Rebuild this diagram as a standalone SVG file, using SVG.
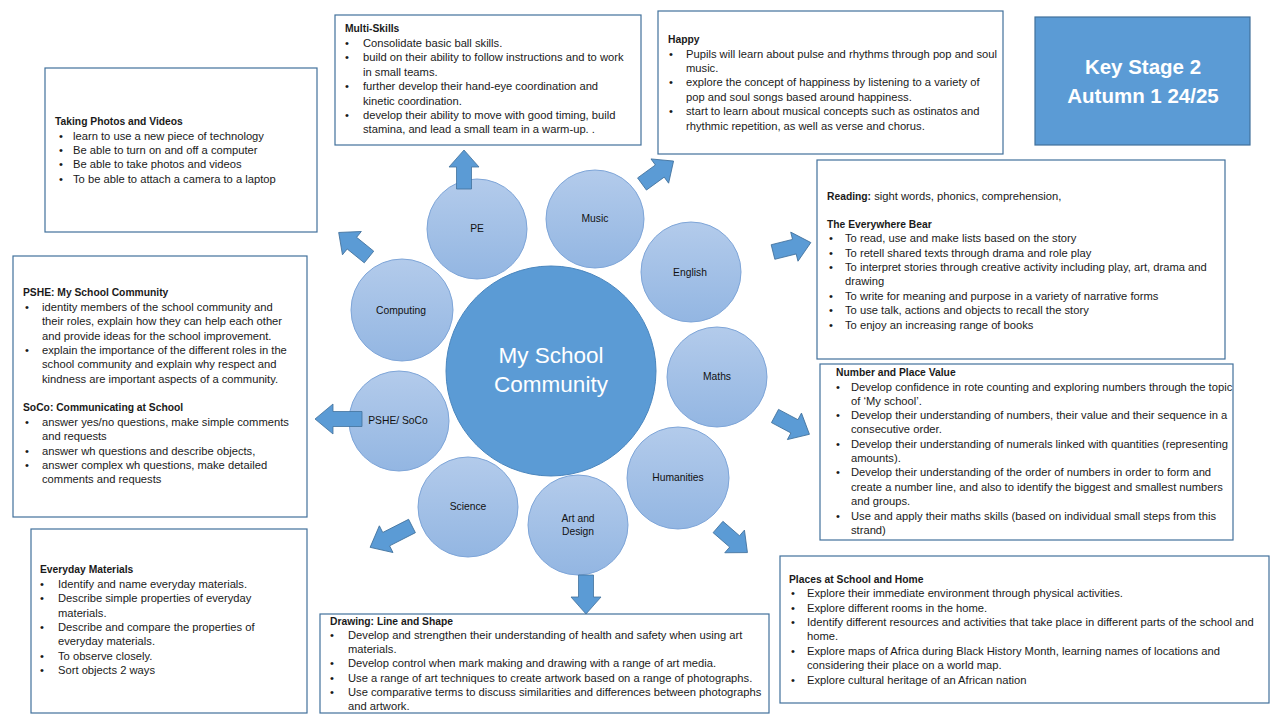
<svg xmlns="http://www.w3.org/2000/svg" xmlns:xlink="http://www.w3.org/1999/xlink" width="1280" height="720" viewBox="0 0 1280 720">
<defs>
<linearGradient id="g" x1="0" y1="0" x2="0" y2="1">
<stop offset="0" stop-color="#B3CBEB"/>
<stop offset="1" stop-color="#93B6E2"/>
</linearGradient>
<path id="arr" d="M0,-7.5 H22 V-15 L39,0 L22,15 V7.5 H0 Z"/>
<path id="arrL" d="M0,-7.5 H29 V-15 L47,0 L29,15 V7.5 H0 Z"/>
<style>
.box{fill:#fff;stroke:#41719C;stroke-width:1.2}
.t{font-family:"Liberation Sans",Arial,sans-serif;font-size:11.2px;fill:#1a1a1a}
.b{font-weight:bold;font-size:10.3px}
.sub{fill:url(#g);stroke:#7EA5D8;stroke-width:1}
.ct{font-family:"Liberation Sans",Arial,sans-serif;font-size:10.3px;fill:#111;text-anchor:middle}
.arrow{fill:#5B9BD5;stroke:#41719C;stroke-width:0.8}
.ks{font-family:"Liberation Sans",Arial,sans-serif;font-size:20.5px;font-weight:bold;fill:#fff;text-anchor:middle}
</style>
</defs>
<rect width="1280" height="720" fill="#fff"/>

<g id="center">
<circle cx="551" cy="371" r="105" fill="#5B9BD5" stroke="#4A86BE" stroke-width="1"/>
<text x="551" y="363" font-family="'Liberation Sans',Arial,sans-serif" font-size="22.5" fill="#fff" text-anchor="middle">My School</text>
<text x="551" y="392" font-family="'Liberation Sans',Arial,sans-serif" font-size="22.5" fill="#fff" text-anchor="middle">Community</text>
</g>

<g id="pe"><circle class="sub" cx="477" cy="229" r="50"/><text class="ct" x="477" y="232">PE</text></g>
<g id="music"><circle class="sub" cx="595" cy="219" r="49"/><text class="ct" x="595" y="222">Music</text></g>
<g id="english"><circle class="sub" cx="691" cy="272" r="50"/><text class="ct" x="690" y="276">English</text></g>
<g id="computing"><circle class="sub" cx="402" cy="310" r="51"/><text class="ct" x="401" y="314">Computing</text></g>
<g id="maths"><circle class="sub" cx="717" cy="377" r="50"/><text class="ct" x="717" y="380">Maths</text></g>
<g id="pshe"><circle class="sub" cx="399" cy="421" r="50"/><text class="ct" x="398" y="424">PSHE/ SoCo</text></g>
<g id="science"><circle class="sub" cx="468" cy="507" r="50"/><text class="ct" x="468" y="510">Science</text></g>
<g id="art"><circle class="sub" cx="578" cy="525" r="50"/><text class="ct" x="578" y="522">Art and</text><text class="ct" x="578" y="535">Design</text></g>
<g id="humanities"><circle class="sub" cx="678" cy="478" r="51"/><text class="ct" x="678" y="481">Humanities</text></g>

<g id="connectors">
<use href="#arr" class="arrow" transform="translate(464,189) rotate(-90)"/>
<use href="#arr" class="arrow" transform="translate(642,184) rotate(-36)"/>
<use href="#arr" class="arrow" transform="translate(369,257) rotate(-141)"/>
<use href="#arr" class="arrow" transform="translate(773,252) rotate(-14)"/>
<use href="#arrL" class="arrow" transform="translate(362,419) rotate(180)"/>
<use href="#arr" class="arrow" transform="translate(775,416) rotate(28)"/>
<use href="#arrL" class="arrow" transform="translate(412,526) rotate(153)"/>
<use href="#arr" class="arrow" transform="translate(586,575) rotate(90)"/>
<use href="#arr" class="arrow" transform="translate(718,527) rotate(41)"/>
</g>

<g id="keystage">
<rect x="1035" y="17" width="215" height="128" fill="#5B9BD5" stroke="#41719C" stroke-width="1.2"/>
<text class="ks" x="1143" y="74">Key Stage 2</text>
<text class="ks" x="1143" y="103">Autumn 1 24/25</text>
</g>

<g id="box-photos">
<rect class="box" x="45" y="68" width="272" height="164"/>
<text class="t b" x="55" y="125">Taking Photos and Videos</text>
<text class="t" x="59" y="140">•</text><text class="t" x="73" y="140">learn to use a new piece of technology</text>
<text class="t" x="59" y="154">•</text><text class="t" x="73" y="154">Be able to turn on and off a computer</text>
<text class="t" x="59" y="168">•</text><text class="t" x="73" y="168">Be able to take photos and videos</text>
<text class="t" x="59" y="183">•</text><text class="t" x="73" y="183">To be able to attach a camera to a laptop</text>
</g>

<g id="box-multiskills">
<rect class="box" x="335" y="15" width="306" height="130"/>
<text class="t b" x="345" y="32">Multi-Skills</text>
<text class="t" x="345" y="47">•</text><text class="t" x="363" y="47">Consolidate basic ball skills.</text>
<text class="t" x="345" y="61">•</text><text class="t" x="363" y="61">build on their ability to follow instructions and to work</text>
<text class="t" x="363" y="76">in small teams.</text>
<text class="t" x="345" y="90">•</text><text class="t" x="363" y="90">further develop their hand-eye coordination and</text>
<text class="t" x="363" y="105">kinetic coordination.</text>
<text class="t" x="345" y="119">•</text><text class="t" x="363" y="119">develop their ability to move with good timing, build</text>
<text class="t" x="363" y="133">stamina, and lead a small team in a warm-up. .</text>
</g>

<g id="box-happy">
<rect class="box" x="658" y="11" width="345" height="143"/>
<text class="t b" x="668" y="43">Happy</text>
<text class="t" x="669" y="58">•</text><text class="t" x="686" y="58">Pupils will learn about pulse and rhythms through pop and soul</text>
<text class="t" x="686" y="72">music.</text>
<text class="t" x="669" y="86">•</text><text class="t" x="686" y="86">explore the concept of happiness by listening to a variety of</text>
<text class="t" x="686" y="101">pop and soul songs based around happiness.</text>
<text class="t" x="669" y="115">•</text><text class="t" x="686" y="115">start to learn about musical concepts such as ostinatos and</text>
<text class="t" x="686" y="130">rhythmic repetition, as well as verse and chorus.</text>
</g>

<g id="box-reading">
<rect class="box" x="817" y="160" width="408" height="199"/>
<text class="t" x="827" y="200"><tspan class="b">Reading:</tspan> sight words, phonics, comprehension,</text>
<text class="t b" x="827" y="228">The Everywhere Bear</text>
<text class="t" x="829" y="242">•</text><text class="t" x="845" y="242">To read, use and make lists based on the story</text>
<text class="t" x="829" y="257">•</text><text class="t" x="845" y="257">To retell shared texts through drama and role play</text>
<text class="t" x="829" y="271">•</text><text class="t" x="845" y="271">To interpret stories through creative activity including play, art, drama and</text>
<text class="t" x="845" y="285">drawing</text>
<text class="t" x="829" y="300">•</text><text class="t" x="845" y="300">To write for meaning and purpose in a variety of narrative forms</text>
<text class="t" x="829" y="314">•</text><text class="t" x="845" y="314">To use talk, actions and objects to recall the story</text>
<text class="t" x="829" y="329">•</text><text class="t" x="845" y="329">To enjoy an increasing range of books</text>
</g>

<g id="box-pshe">
<rect class="box" x="13" y="256" width="294" height="261"/>
<text class="t b" x="23" y="296">PSHE: My School Community</text>
<text class="t" x="25" y="311">•</text><text class="t" x="42" y="311">identity members of the school community and</text>
<text class="t" x="42" y="325">their roles, explain how they can help each other</text>
<text class="t" x="42" y="340">and provide ideas for the school improvement.</text>
<text class="t" x="25" y="354">•</text><text class="t" x="42" y="354">explain the importance of the different roles in the</text>
<text class="t" x="42" y="368">school community and explain why respect and</text>
<text class="t" x="42" y="383">kindness are important aspects of a community.</text>
<text class="t b" x="23" y="411">SoCo: Communicating at School</text>
<text class="t" x="25" y="426">•</text><text class="t" x="42" y="426">answer yes/no questions, make simple comments</text>
<text class="t" x="42" y="440">and requests</text>
<text class="t" x="25" y="455">•</text><text class="t" x="42" y="455">answer wh questions and describe objects,</text>
<text class="t" x="25" y="469">•</text><text class="t" x="42" y="469">answer complex wh questions, make detailed</text>
<text class="t" x="42" y="483">comments and requests</text>
</g>

<g id="box-number">
<rect class="box" x="820" y="364" width="413" height="176"/>
<text class="t b" x="836" y="376">Number and Place Value</text>
<text class="t" x="836" y="391">•</text><text class="t" x="851" y="391">Develop confidence in rote counting and exploring numbers through the topic</text>
<text class="t" x="851" y="405">of ‘My school’.</text>
<text class="t" x="836" y="419">•</text><text class="t" x="851" y="419">Develop their understanding of numbers, their value and their sequence in a</text>
<text class="t" x="851" y="433">consecutive order.</text>
<text class="t" x="836" y="448">•</text><text class="t" x="851" y="448">Develop their understanding of numerals linked with quantities (representing</text>
<text class="t" x="851" y="462">amounts).</text>
<text class="t" x="836" y="476">•</text><text class="t" x="851" y="476">Develop their understanding of the order of numbers in order to form and</text>
<text class="t" x="851" y="491">create a number line, and also to identify the biggest and smallest numbers</text>
<text class="t" x="851" y="505">and groups.</text>
<text class="t" x="836" y="520">•</text><text class="t" x="851" y="520">Use and apply their maths skills (based on individual small steps from this</text>
<text class="t" x="851" y="534">strand)</text>
</g>

<g id="box-materials">
<rect class="box" x="31" y="529" width="276" height="184"/>
<text class="t b" x="40" y="573">Everyday Materials</text>
<text class="t" x="40" y="588">•</text><text class="t" x="58" y="588">Identify and name everyday materials.</text>
<text class="t" x="40" y="602">•</text><text class="t" x="58" y="602">Describe simple properties of everyday</text>
<text class="t" x="58" y="617">materials.</text>
<text class="t" x="40" y="631">•</text><text class="t" x="58" y="631">Describe and compare the properties of</text>
<text class="t" x="58" y="645">everyday materials.</text>
<text class="t" x="40" y="660">•</text><text class="t" x="58" y="660">To observe closely.</text>
<text class="t" x="40" y="674">•</text><text class="t" x="58" y="674">Sort objects 2 ways</text>
</g>

<g id="box-drawing">
<rect class="box" x="320" y="614" width="449" height="99"/>
<text class="t b" x="330" y="625">Drawing: Line and Shape</text>
<text class="t" x="330" y="639">•</text><text class="t" x="348" y="639">Develop and strengthen their understanding of health and safety when using art</text>
<text class="t" x="348" y="653">materials.</text>
<text class="t" x="330" y="667">•</text><text class="t" x="348" y="667">Develop control when mark making and drawing with a range of art media.</text>
<text class="t" x="330" y="682">•</text><text class="t" x="348" y="682">Use a range of art techniques to create artwork based on a range of photographs.</text>
<text class="t" x="330" y="696">•</text><text class="t" x="348" y="696">Use comparative terms to discuss similarities and differences between photographs</text>
<text class="t" x="348" y="710">and artwork.</text>
</g>

<g id="box-places">
<rect class="box" x="780" y="556" width="489" height="147"/>
<text class="t b" x="789" y="583">Places at School and Home</text>
<text class="t" x="791" y="597">•</text><text class="t" x="807" y="597">Explore their immediate environment through physical activities.</text>
<text class="t" x="791" y="612">•</text><text class="t" x="807" y="612">Explore different rooms in the home.</text>
<text class="t" x="791" y="626">•</text><text class="t" x="807" y="626">Identify different resources and activities that take place in different parts of the school and</text>
<text class="t" x="807" y="640">home.</text>
<text class="t" x="791" y="655">•</text><text class="t" x="807" y="655">Explore maps of Africa  during Black History Month, learning names of locations and</text>
<text class="t" x="807" y="669">considering their place on a world map.</text>
<text class="t" x="791" y="684">•</text><text class="t" x="807" y="684">Explore cultural heritage of an African nation</text>
</g>
</svg>
